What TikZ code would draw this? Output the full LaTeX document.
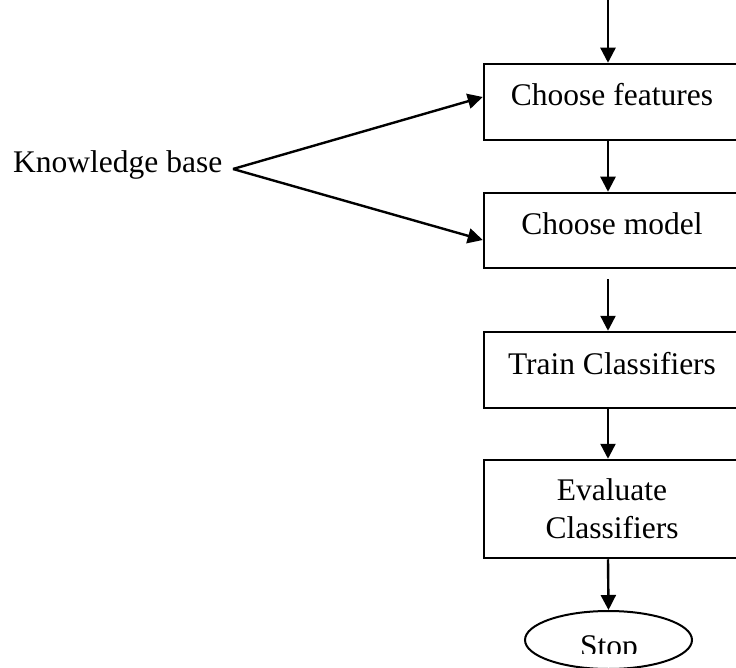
\documentclass[tikz,border=0pt]{standalone}
\usepackage{fontspec}
\setmainfont{Liberation Serif}
\usetikzlibrary{arrows.meta,shapes.geometric}
\begin{document}
\begin{tikzpicture}[x=1pt,y=-1pt,
  txt/.style={font=\fontsize{31.5}{38}\selectfont},
  flow/.style={txt, draw, line width=2.5pt, minimum width=256pt, inner sep=0pt},
  oneline/.style={flow, text height=22pt, text depth=14pt},
  link/.style={line width=2.4pt, -{Triangle[length=15pt,width=15pt]}}]
\useasboundingbox (0,0) rectangle (736,668);
\clip (0,0) rectangle (736,668);

% entry point of the flow and the split point of the knowledge links
\coordinate (entry) at (608,0);
\coordinate (apex) at (233,169);

% process boxes
\node[oneline, minimum height=76pt] (feat)  at (612,102)   {Choose features};
\node[oneline, minimum height=75pt] (model) at (612,230.5) {Choose model};
\node[oneline, minimum height=76pt] (train) at (612,370)   {Train Classifiers};
\node[flow, minimum height=98pt, align=center] (eval) at (612,509) {Evaluate\\Classifiers};

% terminal
\node[draw, ellipse, line width=2pt, minimum width=167pt, minimum height=58pt, inner sep=0pt] (stop) at (608.5,640) {};
\begin{scope}
  \clip (560,620) rectangle (660,653);
  \node[txt, inner sep=0pt, anchor=base] (stoptext) at (609,656) {Stop};
\end{scope}

% knowledge base source
\node[txt, inner sep=0pt, anchor=base west] (kb) at (13,173) {Knowledge base};

% main flow
\draw[link] (entry) -- (entry |- feat.north);
\draw[link] (entry |- feat.south) -- (entry |- model.north);
\draw[link] ([yshift=-10pt]entry |- model.south) -- (entry |- train.north);
\draw[link] (entry |- train.south) -- (entry |- eval.north);
\draw[link] (entry |- eval.south) -- (stop.north);

% knowledge base feeding the two choices
\draw[link] (apex) -- ([yshift=5pt]feat.west);
\draw[link] (apex) -- ([yshift=-9.5pt]model.west);
\end{tikzpicture}
\end{document}
